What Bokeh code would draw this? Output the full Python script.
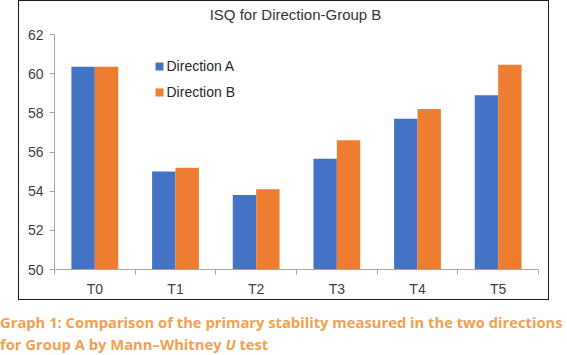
from bokeh.plotting import figure
from bokeh.models import (Range1d, FixedTicker, Legend, LegendItem, Div, Column)
from bokeh.embed import file_html
from bokeh.resources import INLINE

# ---- data ----
categories = ["T0", "T1", "T2", "T3", "T4", "T5"]
direction_a = [60.35, 55.0, 53.8, 55.65, 57.7, 58.9]
direction_b = [60.35, 55.2, 54.1, 56.6, 58.2, 60.45]
series_names = ["Direction A", "Direction B"]
y_ticks = [50, 52, 54, 56, 58, 60, 62]
title_text = "ISQ for Direction-Group B"
caption_line1 = "Graph 1: Comparison of the primary stability measured in the two directions"
caption_line2 = "for Group A by Mann\u2013Whitney <i>U</i> test"

BLUE = "#4472C4"
ORANGE = "#ED7D31"
AXIS_GREY = "#A6A6A6"
TEXT = "#404040"

n = len(categories)
centers = [i + 0.5 for i in range(n)]
bar_w = 0.29

title_div = Div(text=title_text, width=505, height=18, margin=(5, 0, 0, 24),
                styles={"font-family": "Liberation Sans", "font-size": "15px",
                        "line-height": "18px", "color": "#333333",
                        "text-align": "center", "white-space": "nowrap"})

p = figure(width=529, height=275, output_backend="svg", toolbar_location=None,
           x_range=Range1d(0, n), y_range=Range1d(50, 62),
           min_border_left=35, min_border_right=10, min_border_top=10,
           min_border_bottom=29)
p.outline_line_color = None
p.grid.visible = False

ra = p.vbar(x=[c - bar_w / 2 for c in centers], top=direction_a, bottom=50,
            width=bar_w, fill_color=BLUE, line_color=None)
rb = p.vbar(x=[c + bar_w / 2 for c in centers], top=direction_b, bottom=50,
            width=bar_w, fill_color=ORANGE, line_color=None)

# x axis: labels at centres, ticks at category boundaries
xa = p.xaxis[0]
xa.ticker = FixedTicker(ticks=centers, minor_ticks=list(range(n + 1)))
xa.major_label_overrides = {c: lab for c, lab in zip(centers, categories)}
xa.major_tick_line_color = None
xa.major_tick_out = 5
xa.major_tick_in = 0
xa.minor_tick_out = 5
xa.minor_tick_in = 0
xa.minor_tick_line_color = AXIS_GREY
xa.axis_line_color = AXIS_GREY
xa.major_label_standoff = 6
xa.major_label_text_font = "Liberation Sans"
xa.major_label_text_font_size = "14px"
xa.major_label_text_color = TEXT

ya = p.yaxis[0]
ya.ticker = FixedTicker(ticks=y_ticks)
ya.minor_tick_line_color = None
ya.major_tick_out = 5
ya.major_tick_in = 0
ya.major_tick_line_color = AXIS_GREY
ya.axis_line_color = AXIS_GREY
ya.major_label_standoff = 6
ya.major_label_text_font = "Liberation Sans"
ya.major_label_text_font_size = "14px"
ya.major_label_text_color = TEXT

legend = Legend(items=[LegendItem(label=series_names[0], renderers=[ra]),
                       LegendItem(label=series_names[1], renderers=[rb])],
                location=(99.5, 169.5), orientation="vertical",
                padding=0, margin=0, spacing=10,
                glyph_width=10, glyph_height=10, label_height=16,
                label_standoff=3, border_line_color=None,
                background_fill_alpha=0,
                label_text_font="Liberation Sans", label_text_font_size="14px",
                label_text_color="#262626")
p.add_layout(legend)

chart_box = Column(children=[title_div, p], spacing=0,
                   styles={"border": "1.5px solid #1a1a1a", "margin-left": "18px"})

caption = Div(text=caption_line1 + "<br>" + caption_line2, width=567, height=44,
              margin=(11, 0, 0, 0),
              styles={"font-family": "Open Sans", "font-weight": "bold",
                      "font-size": "14.75px", "line-height": "22px",
                      "color": "#F5A04E", "white-space": "nowrap"})

root = Column(children=[chart_box, caption], spacing=0)

open("out.html", "w").write(file_html(root, INLINE))
